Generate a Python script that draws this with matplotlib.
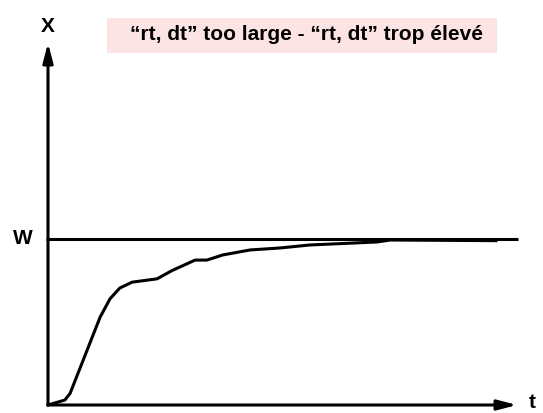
import matplotlib.pyplot as plt
from matplotlib.patches import Rectangle

# response curve X(t), W = 1
t = [0, 0.36, 0.47, 1.11, 1.32, 1.53, 1.79, 2.32, 2.64, 3.13, 3.38, 3.72, 4.30, 4.94, 5.57, 7.0, 7.28, 9.53]
X = [0, 0.03, 0.07, 0.53, 0.64, 0.705, 0.74, 0.76, 0.81, 0.873, 0.873, 0.904, 0.934, 0.946, 0.964, 0.982, 0.994, 0.99]
W = 1.0
title = "\u201crt, dt\u201d too large - \u201crt, dt\u201d trop \u00e9lev\u00e9"

plt.rcParams['font.family'] = ['Liberation Sans', 'DejaVu Sans']

fig = plt.figure(figsize=(5.43, 4.13), dpi=100)
ax = fig.add_axes([0, 0, 1, 1])
ax.set_xlim(-1.0213, 10.532)
ax.set_ylim(-0.0482, 2.4398)
ax.axis('off')

lw = 2.2
# axes with arrows
arrow = dict(arrowstyle='-|>,head_length=1.15,head_width=0.3', mutation_scale=10,
             lw=lw, color='black', shrinkA=0, shrinkB=0)
ax.annotate('', xy=(0, 2.181), xytext=(0, 0), arrowprops=arrow)
ax.annotate('', xy=(9.98, 0), xytext=(0, 0), arrowprops=arrow)

# set point line
ax.plot([-0.05, 10.0], [W, W], color='black', lw=lw, solid_capstyle='butt')
# response
ax.plot(t, X, color='black', lw=lw, solid_joinstyle='round')

ax.text(0, 2.283, 'X', ha='center', va='center', fontsize=15, fontweight='bold')
ax.text(-0.532, W + 0.006, 'W', ha='center', va='center', fontsize=15, fontweight='bold')
ax.text(10.30, 0.018, 't', ha='center', va='center', fontsize=15, fontweight='bold')

ax.add_patch(Rectangle((1.255, 2.1205), 8.298, 0.2108, facecolor='#fde4e4', edgecolor='none'))
ax.text(5.51, 2.229, title, ha='center', va='center', fontsize=15, fontweight='bold')

fig.savefig('out.png', dpi=100)
